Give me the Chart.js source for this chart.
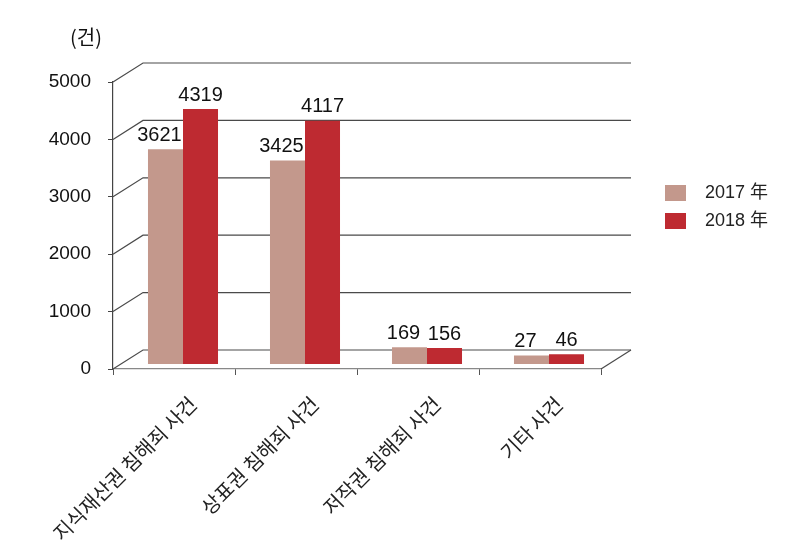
<!DOCTYPE html>
<html>
<head>
<meta charset="utf-8">
<script src="https://cdn.jsdelivr.net/npm/chart.js@4.4.1/dist/chart.umd.min.js"></script>
<style>
  html, body { margin: 0; padding: 0; background: #fff; }
</style>
</head>
<body>
<canvas id="chart" width="800" height="558"></canvas>
<script>
// data
var categories = ["지식재산권 침해죄 사건", "상표권 침해죄 사건", "저작권 침해죄 사건", "기타 사건"];
var cases2017 = [3621, 3425, 169, 27];
var cases2018 = [4319, 4117, 156, 46];
var seriesNames = ["2017 年", "2018 年"];
var yTicks = [0, 1000, 2000, 3000, 4000, 5000];
var unitLabel = "(건)";

var colors = ["#C3988C", "#BE2A31"];
var depth = { dx: 30, dy: 19 };      // back wall offset (fake 3d)
var barShift = { x: 9, y: -12 };     // bars sit a bit inside the box
var labelNudge = [-6, 0];            // value labels of the first series sit a bit left

var latin = '"Liberation Sans", Arial, sans-serif';
var hangul = '"Noto Sans CJK KR", sans-serif';

var boxPlugin = {
  id: 'box3d',
  beforeDatasetsDraw: function (chart) {
    var ctx = chart.ctx, a = chart.chartArea, y = chart.scales.y;
    ctx.save();
    ctx.strokeStyle = '#4a4a4a';
    ctx.lineWidth = 1.2;
    y.ticks.forEach(function (t) {
      var py = y.getPixelForValue(t.value);
      ctx.beginPath();
      ctx.moveTo(a.left, py);
      ctx.lineTo(a.left + depth.dx, py - depth.dy);
      ctx.lineTo(a.right + depth.dx, py - depth.dy);
      ctx.stroke();
    });
    // right edge of the floor
    var p0 = y.getPixelForValue(0);
    ctx.beginPath();
    ctx.moveTo(a.right, p0);
    ctx.lineTo(a.right + depth.dx, p0 - depth.dy);
    ctx.stroke();
    ctx.restore();

    ctx.save();
    ctx.translate(barShift.x, barShift.y);
  },
  afterDatasetsDraw: function (chart) {
    var ctx = chart.ctx;
    ctx.fillStyle = '#111';
    ctx.font = '20px ' + latin;
    ctx.textAlign = 'center';
    ctx.textBaseline = 'bottom';
    chart.data.datasets.forEach(function (ds, i) {
      chart.getDatasetMeta(i).data.forEach(function (bar, j) {
        ctx.fillText(String(ds.data[j]), bar.x + labelNudge[i], bar.y - 4);
      });
    });
    ctx.restore();
  },
  afterDraw: function (chart) {
    var ctx = chart.ctx, a = chart.chartArea;
    ctx.save();
    ctx.textBaseline = 'middle';
    ctx.textAlign = 'left';
    ctx.font = '18px ' + latin.replace('sans-serif', hangul);
    chart.data.datasets.forEach(function (ds, i) {
      var cy = 193 + i * 28;
      ctx.fillStyle = ds.backgroundColor;
      ctx.fillRect(a.right + 64, cy - 8, 21, 16);
      ctx.fillStyle = '#222';
      ctx.fillText(ds.label, a.right + 104, cy);
    });
    ctx.fillStyle = '#111';
    ctx.font = '20px ' + hangul;
    ctx.fillText(unitLabel, 70, 37);
    ctx.restore();
  }
};

new Chart(document.getElementById('chart').getContext('2d'), {
  type: 'bar',
  data: {
    labels: categories,
    datasets: [
      { label: seriesNames[0], data: cases2017, backgroundColor: colors[0] },
      { label: seriesNames[1], data: cases2018, backgroundColor: colors[1] }
    ]
  },
  options: {
    responsive: false,
    animation: false,
    devicePixelRatio: 1,
    layout: { padding: { top: 82, right: 199, bottom: 0, left: 0 } },
    datasets: {
      bar: { categoryPercentage: 0.574, barPercentage: 1, base: -120, clip: false }
    },
    plugins: {
      legend: { display: false },
      tooltip: { enabled: false }
    },
    scales: {
      x: {
        grid: { drawOnChartArea: false, drawTicks: true, tickLength: 6, color: '#555', offset: true },
        border: { display: true, color: '#888', width: 1.2 },
        ticks: {
          maxRotation: 45, minRotation: 45, labelOffset: 19, padding: 17,
          color: '#222', font: { family: hangul, size: 20 }
        },
        afterFit: function (s) { s.height = 558 - 369; }
      },
      y: {
        min: 0, max: 5000,
        afterBuildTicks: function (s) { s.ticks = yTicks.map(function (v) { return { value: v }; }); },
        grid: { drawOnChartArea: false, drawTicks: true, tickLength: 5, color: '#444' },
        border: { display: true, color: '#444', width: 1.2 },
        ticks: {
          padding: 17, color: '#111', font: { family: latin, size: 19 },
          callback: function (v) { return String(v); }
        },
        afterFit: function (s) { s.width = 113; }
      }
    }
  },
  plugins: [boxPlugin]
});
</script>
</body>
</html>
